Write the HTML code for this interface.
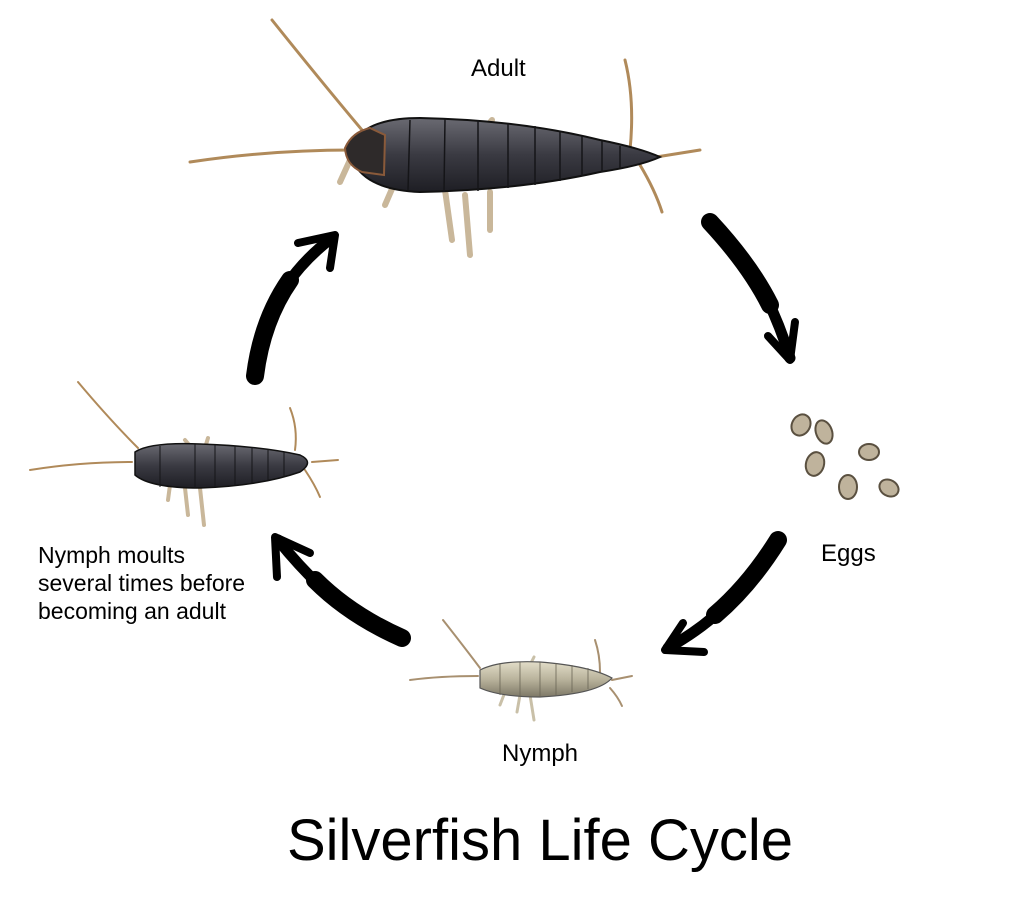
<!DOCTYPE html>
<html><head><meta charset="utf-8"><style>
html,body{margin:0;padding:0;background:#fff;}
svg{display:block}
text{font-family:"Liberation Sans","DejaVu Sans",sans-serif;fill:#000}
</style></head><body>
<svg width="1024" height="920" viewBox="0 0 1024 920" xmlns="http://www.w3.org/2000/svg">
<rect width="1024" height="920" fill="#fff"/>
<defs>
<linearGradient id="adb" x1="0" y1="0" x2="0" y2="1">
<stop offset="0" stop-color="#6a6a72"/><stop offset="0.5" stop-color="#3a3a42"/><stop offset="1" stop-color="#1e1e24"/></linearGradient>
<linearGradient id="nyb" x1="0" y1="0" x2="0" y2="1">
<stop offset="0" stop-color="#e2ddc8"/><stop offset="0.5" stop-color="#b9b39c"/><stop offset="1" stop-color="#7d7866"/></linearGradient>
</defs>

<!-- Adult -->
<g stroke="#b08a5a" stroke-width="3" fill="none" stroke-linecap="round">
<path d="M362 130 Q320 80 272 20"/>
<path d="M352 150 Q270 150 190 162"/>
<path d="M630 150 Q635 100 625 60"/>
<path d="M650 158 L700 150"/>
<path d="M640 165 Q655 190 662 212"/>
<g stroke="#c9b79a" stroke-width="6">
<path d="M460 132 L458 122"/><path d="M480 135 L492 120"/>
<path d="M395 182 L385 205"/><path d="M445 190 L452 240"/>
<path d="M465 195 L470 255"/><path d="M490 192 L490 230"/>
<path d="M350 160 L340 182"/>
</g>
</g>
<path d="M355 140 Q370 118 420 118 Q520 120 600 140 Q640 148 660 157 Q640 166 600 172 Q520 190 420 192 Q370 190 355 165 Z" fill="url(#adb)" stroke="#111" stroke-width="2"/>
<path d="M345 148 Q352 132 370 128 L385 135 L384 175 L362 172 Q346 165 345 148Z" fill="#2e2a2a" stroke="#8a5a3a" stroke-width="2"/>
<g stroke="#151518" stroke-width="1.5">
<path d="M410 120 L408 190"/><path d="M445 119 L444 192"/><path d="M478 120 L478 191"/>
<path d="M508 123 L508 188"/><path d="M535 126 L535 185"/><path d="M560 131 L560 181"/>
<path d="M582 136 L582 176"/><path d="M602 141 L602 172"/><path d="M620 146 L620 168"/>
</g>

<!-- Nymph moulting (left) -->
<g stroke="#b08a5a" stroke-width="2" fill="none" stroke-linecap="round">
<path d="M138 448 Q110 420 78 382"/>
<path d="M132 462 Q80 462 30 470"/>
<path d="M295 450 Q298 428 290 408"/>
<path d="M312 462 L338 460"/>
<path d="M305 470 Q315 485 320 497"/>
<g stroke="#c9b79a" stroke-width="4">
<path d="M185 488 L188 515"/><path d="M200 488 L204 525"/><path d="M170 485 L168 500"/>
<path d="M205 448 L208 438"/><path d="M190 446 L185 440"/>
</g>
</g>
<path d="M135 452 Q150 442 200 444 Q260 446 300 455 Q315 462 300 472 Q260 486 200 488 Q150 488 135 475 Z" fill="url(#adb)" stroke="#111" stroke-width="1.5"/>
<g stroke="#151518" stroke-width="1">
<path d="M160 446 L160 487"/><path d="M195 444 L195 488"/><path d="M215 445 L215 487"/>
<path d="M235 446 L235 485"/><path d="M252 447 L252 483"/><path d="M268 449 L268 480"/><path d="M284 452 L284 476"/>
</g>

<!-- Nymph (bottom) -->
<g stroke="#a89070" stroke-width="2" fill="none" stroke-linecap="round">
<path d="M480 668 Q465 648 443 620"/>
<path d="M478 676 Q440 676 410 680"/>
<path d="M600 672 Q600 655 595 640"/>
<path d="M612 680 L632 676"/>
<path d="M610 688 Q618 697 622 706"/>
<g stroke="#c9c0a8" stroke-width="3">
<path d="M520 695 L517 712"/><path d="M530 695 L534 720"/><path d="M505 692 L500 705"/>
<path d="M530 665 L534 657"/>
</g>
</g>
<path d="M480 670 Q500 660 540 662 Q590 666 612 678 Q598 694 540 697 Q500 697 480 688 Z" fill="url(#nyb)" stroke="#555" stroke-width="1.2"/>
<g stroke="#6a6555" stroke-width="0.8">
<path d="M500 663 L500 695"/><path d="M520 662 L520 697"/><path d="M540 662 L540 697"/>
<path d="M556 663 L556 695"/><path d="M572 665 L572 692"/><path d="M588 668 L588 689"/>
</g>

<!-- Eggs -->
<g fill="#bfb39c" stroke="#5a5040" stroke-width="2">
<ellipse cx="801" cy="425" rx="9" ry="11" transform="rotate(30 801 425)"/>
<ellipse cx="824" cy="432" rx="8" ry="12" transform="rotate(-20 824 432)"/>
<ellipse cx="815" cy="464" rx="9" ry="12" transform="rotate(15 815 464)"/>
<ellipse cx="869" cy="452" rx="10" ry="8"/>
<ellipse cx="848" cy="487" rx="9" ry="12"/>
<ellipse cx="889" cy="488" rx="10" ry="8" transform="rotate(30 889 488)"/>
</g>

<!-- Arrows -->
<g fill="none" stroke="#000" stroke-linecap="round" stroke-linejoin="round">
<path d="M710 222 Q750 265 770 305" stroke-width="18"/>
<path d="M765 295 Q780 325 790 358" stroke-width="11"/>
<path d="M768 336 L790 360 L795 322" stroke-width="8"/>
<path d="M778 540 Q750 585 715 615" stroke-width="18"/>
<path d="M722 609 Q700 630 668 648" stroke-width="11"/>
<path d="M683 623 L665 650 L704 652" stroke-width="8"/>
<path d="M402 638 Q350 615 315 580" stroke-width="18"/>
<path d="M322 588 Q298 565 278 540" stroke-width="11"/>
<path d="M277 577 L275 537 L310 553" stroke-width="8"/>
<path d="M255 376 Q262 320 290 280" stroke-width="18"/>
<path d="M285 287 Q305 258 332 238" stroke-width="11"/>
<path d="M298 243 L335 235 L330 268" stroke-width="8"/>
</g>

<!-- Labels -->
<text x="471" y="76" font-size="24">Adult</text>
<text x="821" y="561" font-size="24">Eggs</text>
<text x="502" y="761" font-size="24">Nymph</text>
<text x="38" y="563" font-size="23">Nymph moults</text>
<text x="38" y="591" font-size="23">several times before</text>
<text x="38" y="619" font-size="23">becoming an adult</text>
<text x="540" y="860" font-size="58" text-anchor="middle">Silverfish Life Cycle</text>
</svg>
</body></html>
